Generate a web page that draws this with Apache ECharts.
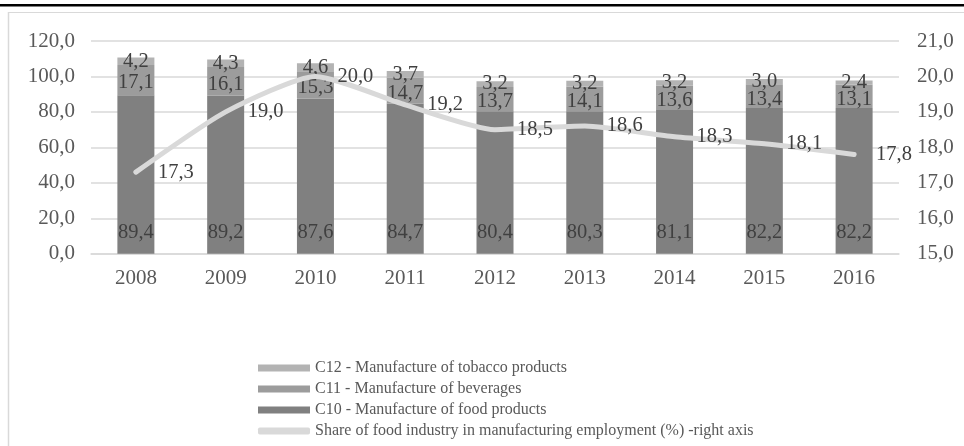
<!DOCTYPE html>
<html>
<head>
<meta charset="utf-8">
<style>
  html, body { margin: 0; padding: 0; background: #fff; }
  #chart { width: 964px; height: 446px; }
</style>
<script src="https://cdn.jsdelivr.net/npm/echarts@6/dist/echarts.min.js"></script>
</head>
<body>
<div id="chart"></div>
<script>
// Employment in the food industry, 2008-2016
const years = ['2008', '2009', '2010', '2011', '2012', '2013', '2014', '2015', '2016'];
const foodProducts = [89.4, 89.2, 87.6, 84.7, 80.4, 80.3, 81.1, 82.2, 82.2];   // C10
const beverages = [17.1, 16.1, 15.3, 14.7, 13.7, 14.1, 13.6, 13.4, 13.1];      // C11
const tobacco = [4.2, 4.3, 4.6, 3.7, 3.2, 3.2, 3.2, 3.0, 2.4];                // C12
const shareOfManufacturing = [17.3, 19.0, 20.0, 19.2, 18.5, 18.6, 18.3, 18.1, 17.8]; // % (right axis)

const NAME_C10 = 'C10 - Manufacture of food products';
const NAME_C11 = 'C11 - Manufacture of beverages';
const NAME_C12 = 'C12 - Manufacture of tobacco products';
const NAME_SHARE = 'Share of food industry in manufacturing employment (%) -right axis';

const FONT = '"Liberation Serif", "Times New Roman", serif';
const AXIS_FONT = 21;
const LABEL_FONT = 20.5;
const LINE_GREY = '#d9d9d9';
const fmt = v => Number(v).toFixed(1).replace('.', ',');
const labelFmt = p => fmt(p.value);

const chart = echarts.init(document.getElementById('chart'), null, { renderer: 'canvas' });

const barLabel = (position, distance) => ({
  show: true,
  position: position,
  distance: distance,
  formatter: labelFmt,
  color: '#404040',
  fontFamily: FONT,
  fontSize: LABEL_FONT
});

chart.setOption({
  backgroundColor: '#ffffff',
  animation: false,
  textStyle: { fontFamily: FONT },
  graphic: [
    { type: 'rect', shape: { x: 0, y: 4, width: 964, height: 2.5 }, style: { fill: '#000' }, silent: true },
    { type: 'line', shape: { x1: 8.5, y1: 12, x2: 8.5, y2: 446 }, style: { stroke: LINE_GREY, lineWidth: 1.5 }, silent: true },
    { type: 'line', shape: { x1: 8, y1: 12.5, x2: 964, y2: 12.5 }, style: { stroke: LINE_GREY, lineWidth: 1 }, silent: true }
  ],
  grid: { left: 91, right: 65, top: 41, bottom: 192.3, containLabel: false },
  legend: {
    orient: 'vertical',
    left: 258,
    top: 359.5,
    padding: 0,
    height: 100,
    itemWidth: 52,
    itemHeight: 7,
    itemGap: 4,
    textStyle: { fontFamily: FONT, fontSize: 16, lineHeight: 17, color: '#595959' },
    data: [
      { name: NAME_C12, icon: 'rect' },
      { name: NAME_C11, icon: 'rect' },
      { name: NAME_C10, icon: 'rect' },
      { name: NAME_SHARE, icon: 'roundRect', itemStyle: { color: LINE_GREY } }
    ]
  },
  xAxis: {
    type: 'category',
    data: years,
    axisLine: { show: true, lineStyle: { color: LINE_GREY, width: 1.5 } },
    axisTick: { show: false },
    axisLabel: { color: '#595959', fontFamily: FONT, fontSize: AXIS_FONT, margin: 14 }
  },
  yAxis: [
    {
      type: 'value',
      min: 0, max: 120, interval: 20,
      axisLine: { show: false },
      axisTick: { show: false },
      splitLine: { lineStyle: { color: LINE_GREY, width: 1.5 } },
      axisLabel: { color: '#595959', fontFamily: FONT, fontSize: AXIS_FONT, margin: 16, formatter: fmt }
    },
    {
      type: 'value',
      min: 15, max: 21, interval: 1,
      position: 'right',
      axisLine: { show: false },
      axisTick: { show: false },
      splitLine: { show: false },
      axisLabel: { color: '#595959', fontFamily: FONT, fontSize: AXIS_FONT, margin: 18, formatter: fmt }
    }
  ],
  series: [
    {
      name: NAME_C10, type: 'bar', stack: 'emp', data: foodProducts,
      barWidth: 37,
      itemStyle: { color: '#808080' },
      label: barLabel('insideBottom', 11)
    },
    {
      name: NAME_C11, type: 'bar', stack: 'emp', data: beverages,
      barWidth: 37,
      itemStyle: { color: '#9c9c9c' },
      label: Object.assign(barLabel('inside', 0), { offset: [0, 3] })
    },
    {
      name: NAME_C12, type: 'bar', stack: 'emp', data: tobacco,
      barWidth: 37,
      itemStyle: { color: '#b3b3b3' },
      label: barLabel('inside', 0)
    },
    {
      name: NAME_SHARE, type: 'line', yAxisIndex: 1, data: shareOfManufacturing,
      smooth: 0.2,
      symbol: 'circle',
      symbolSize: 4,
      showSymbol: true,
      z: 5,
      lineStyle: { color: LINE_GREY, width: 5, cap: 'round', join: 'round' },
      itemStyle: { color: LINE_GREY },
      label: {
        show: true, position: 'right', distance: 20, offset: [0, 2],
        formatter: labelFmt, color: '#404040', fontFamily: FONT, fontSize: LABEL_FONT
      },
      labelLayout: { hideOverlap: false }
    }
  ]
});
</script>
</body>
</html>
